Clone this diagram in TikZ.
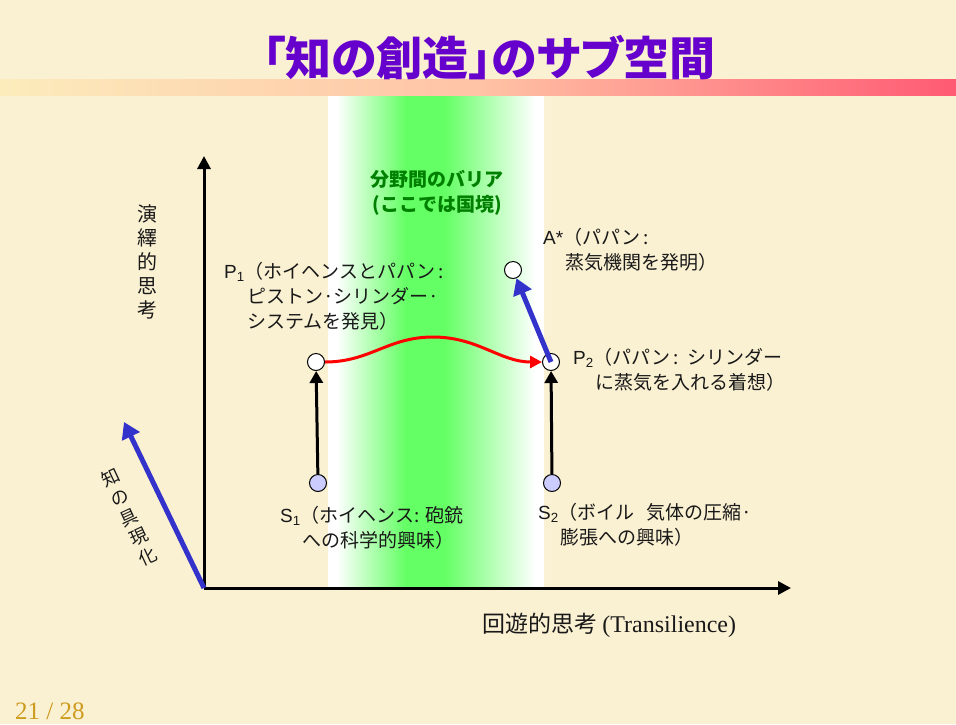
\documentclass[tikz,border=0pt]{standalone}
\usepackage{fontspec}
\setmainfont{Noto Sans CJK JP}
\newfontfamily\titlefont[RawFeature=+palt]{Noto Sans CJK JP}
\newfontfamily\lat{Liberation Sans}
\newfontfamily\tms{Liberation Serif}
\usetikzlibrary{arrows.meta, calc}

\definecolor{paper}{RGB}{250,240,210}
\definecolor{barL}{RGB}{252,236,188}
\definecolor{barM}{RGB}{255,195,165}
\definecolor{barR}{RGB}{255,90,115}
\definecolor{bandgreen}{RGB}{100,255,100}
\definecolor{darkgreen}{RGB}{0,128,0}
\definecolor{titlepurple}{RGB}{102,0,204}
\definecolor{lavender}{RGB}{204,204,255}
\definecolor{arrowblue}{RGB}{51,51,204}
\definecolor{ink}{RGB}{25,25,25}
\definecolor{gold}{RGB}{205,155,30}

\pgfdeclarehorizontalshading{barrier}{100bp}{color(0bp)=(white); color(25bp)=(white); color(27bp)=(white); color(43bp)=(bandgreen); color(52bp)=(bandgreen); color(73bp)=(white); color(100bp)=(white)}

\newcommand{\ptlabel}[2]{{\lat #1\textsubscript{#2}}}

\begin{document}
\begin{tikzpicture}[x=1pt, y=-1pt, font=\fontsize{19}{25}\selectfont,
	dot/.style={circle, draw=black, line width=1pt, minimum size=17pt, inner sep=0pt, fill=white},
	srcdot/.style={dot, fill=lavender},
	txt/.style={anchor=north west, align=left, inner sep=0pt, text=ink},
	uparrow/.style={line width=3pt, -{Triangle[length=12pt,width=13pt]}},
	bluearrow/.style={arrowblue, line width=5pt, -{Triangle[length=16pt,width=19pt]}},
	axis/.style={line width=3pt, -{Triangle[length=13pt,width=13pt]}}]
	\def\W{956}
	\def\H{724}
	\def\ax{204}
	\def\ay{588}

	\fill[paper] (0,0) rectangle (\W,\H);
	\useasboundingbox (0,0) rectangle (\W,\H);

	\shade[left color=barL, right color=barR, middle color=barM] (0,79) rectangle (\W,95);
	\shade[shading=barrier] (328,96) rectangle (544,\ay);

	\node[font=\fontsize{46}{52}\titlefont\bfseries, text=titlepurple] (title) at (489,58) {「知の創造」のサブ空間};

	\node[align=center, font=\fontsize{19}{25}\selectfont\bfseries, text=darkgreen] (barrier) at (437,193) {分野間のバリア\\(ここでは国境)};

	% axes
	\coordinate (o) at (\ax,\ay);
	\coordinate (ytip) at (\ax,156);
	\coordinate (xtip) at (791,\ay);
	\coordinate (ktip) at (124,422);
	\draw[axis] (o) -- (ytip);
	\draw[axis] (o) -- (xtip);
	\draw[bluearrow] (o) -- (ktip);

	\node[align=center, font=\fontsize{20}{24}\selectfont, text=ink] (deduct) at (147,262) {演\\繹\\的\\思\\考};
	\node[align=center, font=\fontsize{18}{22}\selectfont, text=ink, rotate=25] (embody) at (129,517) {知\\の\\具\\現\\化};
	\node[anchor=west, inner sep=0pt, font=\fontsize{23}{27}\selectfont, text=ink] (xlabel) at (482,625) {回遊的思考 {\tms\fontsize{24}{27}\selectfont (Transilience)}};

	% points
	\node[dot] (p1) at (316,362) {};
	\node[dot] (p2) at (551,362) {};
	\node[srcdot] (s1) at (318,483) {};
	\node[srcdot] (s2) at (552,483) {};
	\node[dot] (astar) at (513,270) {};

	\draw[uparrow] (s1) -- (p1);
	\draw[uparrow] (s2) -- (p2);
	\draw[red, line width=3pt, -{Triangle[length=12pt,width=12pt]}] (p1.east) .. controls +(45,0) and (388,337) .. (433,337) .. controls (478,337) and (500,362) .. (p2.west);
	\draw[bluearrow] (p2.center) -- (astar);

	\node[txt] (p1text) at (224,262) {\ptlabel{P}{1}（ホイヘンスとパパン\,:\\\hspace*{23pt}ピストン·シリンダー·\\\hspace*{23pt}システムを発見）};
	\node[txt] (atext) at (543,228) {{\lat A*}（パパン\,:\\\hspace*{22pt}蒸気機関を発明）};
	\node[txt] (p2text) at (573,348) {\ptlabel{P}{2}（パパン\,:\hspace{8pt}シリンダー\\\hspace*{22pt}に蒸気を入れる着想）};
	\node[txt] (s1text) at (280,506) {\ptlabel{S}{1}（ホイヘンス:\hspace{6pt}砲銃\\\hspace*{22pt}への科学的興味）};
	\node[txt] (s2text) at (538,503) {\ptlabel{S}{2}（ボイル\hspace{12pt}気体の圧縮·\\\hspace*{22pt}膨張への興味）};

	\node[anchor=west, inner sep=0pt, font=\fontsize{25}{28}\selectfont\tms, text=gold] (page) at (15,711) {21 / 28};
\end{tikzpicture}
\end{document}
